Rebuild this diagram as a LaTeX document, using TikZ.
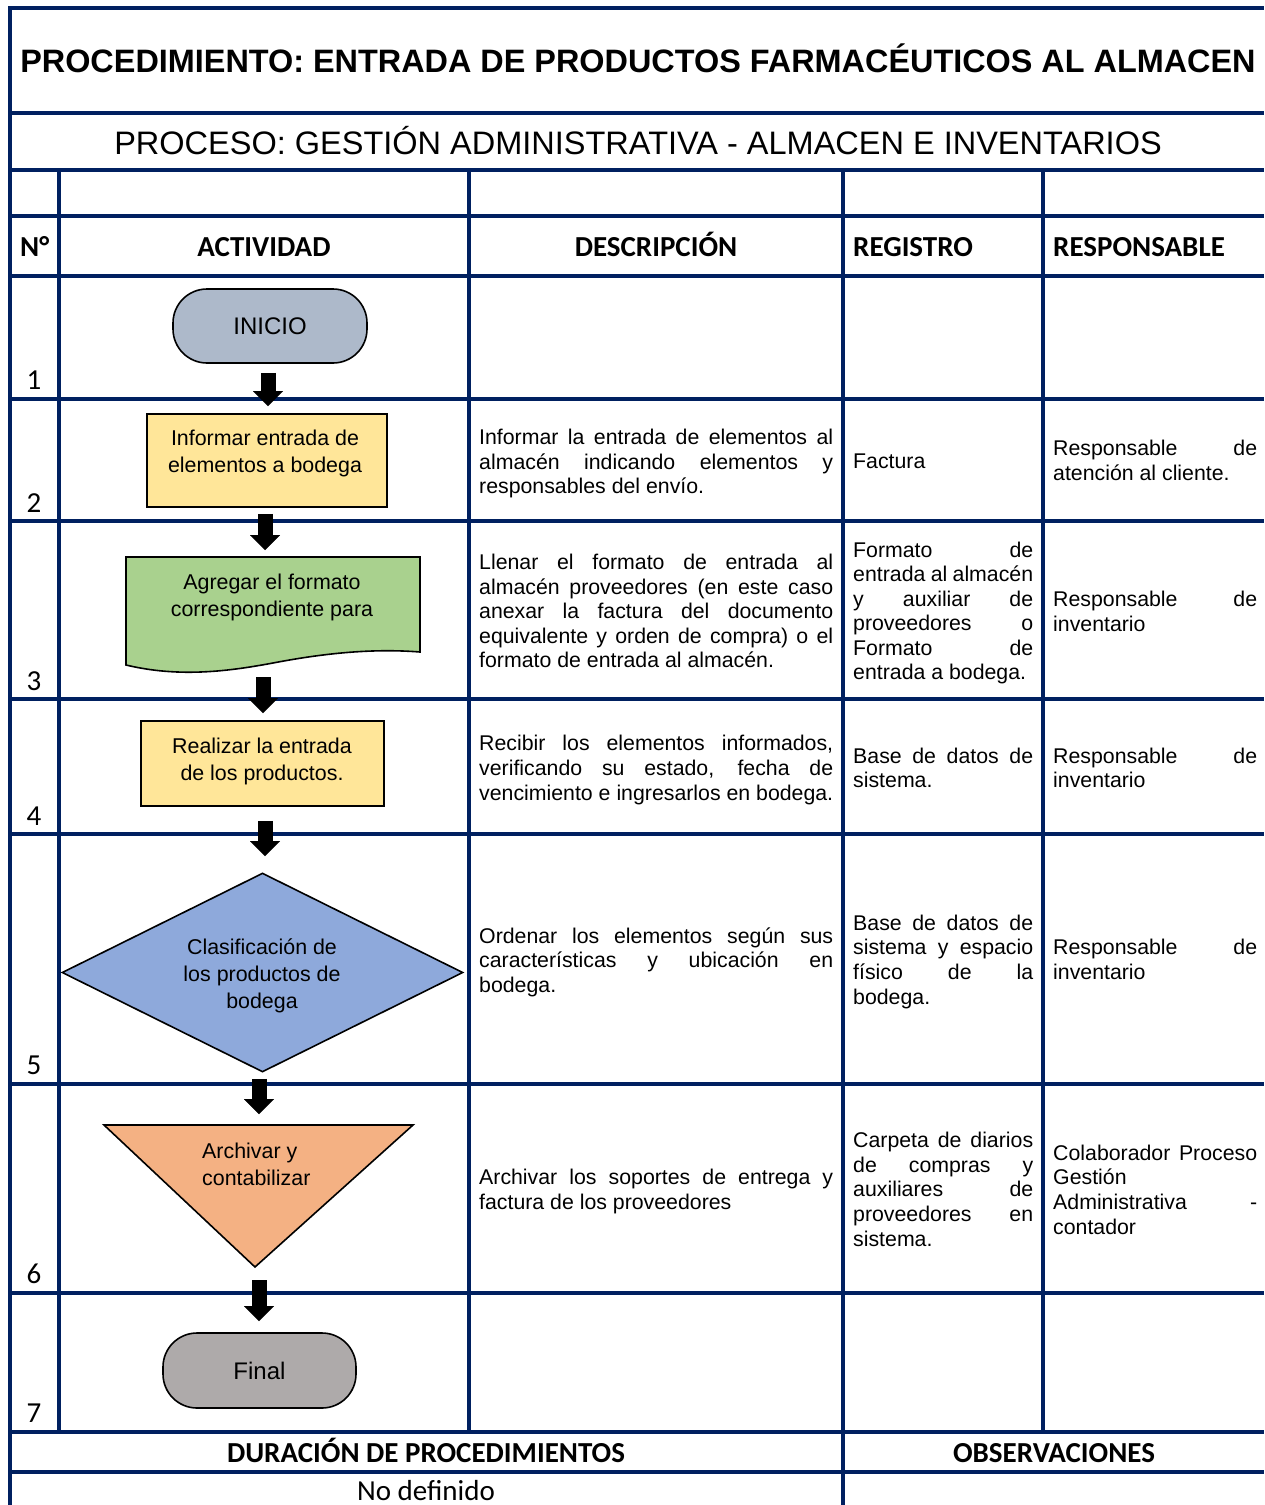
\documentclass[tikz,border=0pt]{standalone}
\usepackage{fontspec}
\setmainfont{Liberation Sans}
\newfontfamily\calfont{Carlito}
\usetikzlibrary{arrows.meta,shapes.geometric,calc}
\definecolor{navy}{HTML}{002060}
\definecolor{cinicio}{HTML}{ADB9CA}
\definecolor{cyel}{HTML}{FFE699}
\definecolor{cgreen}{HTML}{A9D18E}
\definecolor{cblue}{HTML}{8EA9DB}
\definecolor{corange}{HTML}{F4B183}
\definecolor{cgray}{HTML}{AEAAAA}
\tikzset{
  grid/.style={draw=navy,line width=3.5pt},
  txt/.style={font=\fontsize{21.3}{24.5}\selectfont,inner sep=0pt},
  shp/.style={draw=black,line width=1.6pt},
  shtxt/.style={font=\fontsize{21.4}{27}\selectfont,inner sep=0pt,align=center},
  hdr/.style={font=\calfont\bfseries\fontsize{29}{34}\selectfont,inner sep=0pt},
  numtxt/.style={font=\calfont\fontsize{29}{34}\selectfont,inner sep=0pt,anchor=base},
  barrow/.style={line width=15pt,black,-{Triangle[width=30pt,length=15pt,line width=0.01pt]}},
}
\newcommand\JL[5]{\node[txt,anchor=base west] (#1) at (#2,#3) {\makebox[#4pt][s]{#5}};}
\newcommand\PL[4]{\node[txt,anchor=base west] (#1) at (#2,#3) {#4};}
\begin{document}
\begin{tikzpicture}[x=1pt,y=-1pt]
\useasboundingbox (0,0) rectangle (1264,1505);
% grid
\foreach \yy in {8,113,170,216,276,399,521,699,834,1084,1293,1432,1472}
  \draw[grid] (10,\yy) -- (1264,\yy);
\draw[grid] (10,6) -- (10,1505);
\foreach \xx in {59,469,843,1043}
  \draw[grid] (\xx,170) -- (\xx,1432);
\draw[grid] (843,1432) -- (843,1505);
% titles
\node[font=\bfseries\fontsize{32.4}{38}\selectfont,inner sep=0pt,anchor=base] (title) at (638,72) {PROCEDIMIENTO: ENTRADA DE PRODUCTOS FARMACÉUTICOS AL ALMACEN};
\node[font=\fontsize{32.5}{38}\selectfont,inner sep=0pt,anchor=base] (subtitle) at (638,154) {PROCESO: GESTIÓN ADMINISTRATIVA - ALMACEN E INVENTARIOS};
% headers
\node[hdr,anchor=base west] (hN) at (20,256) {N°};
\node[hdr,anchor=base] (hA) at (264,256) {ACTIVIDAD};
\node[hdr,anchor=base] (hD) at (656,256) {DESCRIPCIÓN};
\node[hdr,anchor=base west] (hR) at (853,256) {REGISTRO};
\node[hdr,anchor=base west] (hP) at (1053,256) {RESPONSABLE};
\node[hdr,anchor=base] (fD) at (426,1462) {DURACIÓN DE PROCEDIMIENTOS};
\node[hdr,anchor=base] (fO) at (1054,1462) {OBSERVACIONES};
\node[numtxt] (fN) at (426,1500) {No definido};
% row numbers
\node[numtxt] (n1) at (34,389) {1};
\node[numtxt] (n2) at (34,512) {2};
\node[numtxt] (n3) at (34,690) {3};
\node[numtxt] (n4) at (34,825) {4};
\node[numtxt] (n5) at (34,1074) {5};
\node[numtxt] (n6) at (34,1283) {6};
\node[numtxt] (n7) at (34,1422) {7};
% shapes
\node[shp,fill=cinicio,rounded corners=34pt,minimum width=194pt,minimum height=74pt,font=\fontsize{24}{28}\selectfont] (ini) at (270,326) {INICIO};
\node[shp,fill=cyel,minimum width=240pt,minimum height=93pt] (b2) at (267,460.5) {};
\node[shtxt] (t2) at (265,453.5) {Informar entrada de\\elementos a bodega};
\draw[shp,fill=cgreen] (126,557) -- (420,557) -- (420,652)
   .. controls (370,648) and (320,654) .. (273,663)
   .. controls (230,671) and (180,678) .. (126,665) -- cycle;
\coordinate (doctop) at (273,557);
\coordinate (docbot) at (263,668);
\node[shtxt] (t3) at (272,597) {Agregar el formato\\correspondiente para};
\node[shp,fill=cyel,minimum width=243pt,minimum height=85pt] (b4) at (262.5,763.5) {};
\node[shtxt] (t4) at (262,761.5) {Realizar la entrada\\de los productos.};
\node[shp,fill=cblue,diamond,aspect=2,inner sep=0pt,minimum width=401pt,minimum height=199pt] (dia) at (262.5,972.5) {};
\node[shtxt] (t5) at (262,976) {Clasificación de\\los productos de\\bodega};
\draw[shp,fill=corange] (104,1125) -- (413,1125) -- (255,1267) -- cycle;
\coordinate (tritop) at (258.5,1125);
\coordinate (tribot) at (255,1267);
\node[shtxt,align=left,anchor=west] (t6) at (202,1164) {Archivar y\\contabilizar};
\node[shp,fill=cgray,rounded corners=34pt,minimum width=193pt,minimum height=75pt,font=\fontsize{24}{28}\selectfont] (fin) at (259.5,1370.5) {Final};
% arrows
\draw[barrow] ($(ini.south)+(-2,9)$) -- ($(b2.north)+(1,-7)$);
\draw[barrow] ($(b2.south)+(-2,6)$) -- ($(doctop)+(-8,-7)$);
\draw[barrow] ($(docbot)+(0,9)$) -- ($(b4.north)+(0.5,-7)$);
\draw[barrow] ($(b4.south)+(2.5,14)$) -- ($(dia.north)+(2.5,-16)$);
\draw[barrow] ($(dia.south)+(-3.5,6)$) -- ($(tritop)+(0.5,-11)$);
\draw[barrow] ($(tribot)+(4,13)$) -- ($(fin.north)+(-0.5,-11)$);
% descriptions
\JL{d2a}{479}{444}{354}{Informar la entrada de elementos al}
\JL{d2b}{479}{469}{354}{almacén indicando elementos y}
\PL{d2c}{479}{493}{responsables del envío.}
\JL{d3a}{479}{569}{354}{Llenar el formato de entrada al}
\JL{d3b}{479}{594}{354}{almacén proveedores (en este caso}
\JL{d3c}{479}{618}{354}{anexar la factura del documento}
\JL{d3d}{479}{643}{354}{equivalente y orden de compra) o el}
\PL{d3e}{479}{667}{formato de entrada al almacén.}
\JL{d4a}{479}{750}{354}{Recibir los elementos informados,}
\JL{d4b}{479}{775}{354}{verificando su estado, fecha de}
\PL{d4c}{479}{800}{vencimiento e ingresarlos en bodega.}
\JL{d5a}{479}{943}{354}{Ordenar los elementos según sus}
\JL{d5b}{479}{967}{354}{características y ubicación en}
\PL{d5c}{479}{992}{bodega.}
\JL{d6a}{479}{1184}{354}{Archivar los soportes de entrega y}
\PL{d6b}{479}{1209}{factura de los proveedores}
% registro
\PL{r2a}{853}{468}{Factura}
\JL{r3a}{853}{557}{180}{Formato de}
\JL{r3b}{853}{581}{180}{entrada al almacén}
\JL{r3c}{853}{606}{180}{y auxiliar de}
\JL{r3d}{853}{630}{180}{proveedores o}
\JL{r3e}{853}{655}{180}{Formato de}
\PL{r3f}{853}{679}{entrada a bodega.}
\JL{r4a}{853}{763}{180}{Base de datos de}
\PL{r4b}{853}{787}{sistema.}
\JL{r5a}{853}{930}{180}{Base de datos de}
\JL{r5b}{853}{954}{180}{sistema y espacio}
\JL{r5c}{853}{979}{180}{físico de la}
\PL{r5d}{853}{1004}{bodega.}
\JL{r6a}{853}{1147}{180}{Carpeta de diarios}
\JL{r6b}{853}{1172}{180}{de compras y}
\JL{r6c}{853}{1196}{180}{auxiliares de}
\JL{r6d}{853}{1221}{180}{proveedores en}
\PL{r6e}{853}{1246}{sistema.}
% responsable
\JL{p2a}{1053}{455}{204}{Responsable de}
\PL{p2b}{1053}{480}{atención al cliente.}
\JL{p3a}{1053}{606}{204}{Responsable de}
\PL{p3b}{1053}{631}{inventario}
\JL{p4a}{1053}{763}{204}{Responsable de}
\PL{p4b}{1053}{787}{inventario}
\JL{p5a}{1053}{954}{204}{Responsable de}
\PL{p5b}{1053}{979}{inventario}
\JL{p6a}{1053}{1160}{204}{Colaborador Proceso}
\PL{p6b}{1053}{1184}{Gestión}
\JL{p6c}{1053}{1209}{204}{Administrativa -}
\PL{p6d}{1053}{1234}{contador}
\end{tikzpicture}
\end{document}
